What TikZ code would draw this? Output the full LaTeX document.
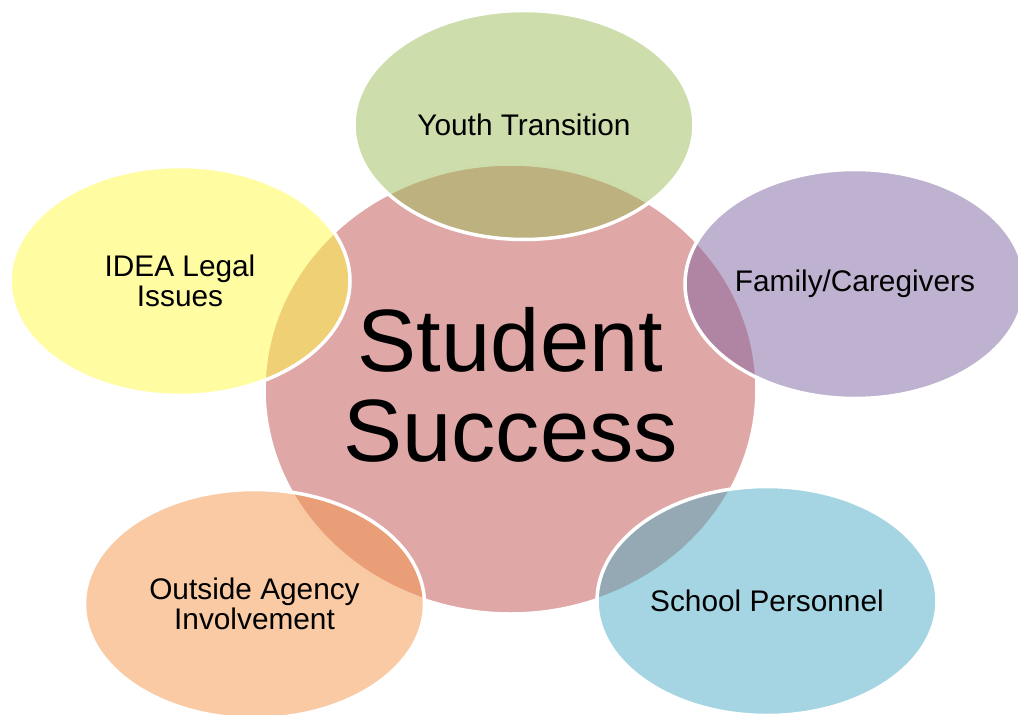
\documentclass[tikz,border=0pt]{standalone}
\usepackage{fontspec}
\setmainfont{Liberation Sans}
\usetikzlibrary{shapes.geometric}
\definecolor{cRed}{HTML}{C0504D}
\definecolor{cGreen}{HTML}{9BBB59}
\definecolor{cPurple}{HTML}{8064A2}
\definecolor{cAqua}{HTML}{4BACC6}
\definecolor{cOrange}{HTML}{F39549}
\definecolor{cYellow}{HTML}{FFFA46}
\begin{document}
\begin{tikzpicture}[x=1pt,y=-1pt,
  bubble/.style={ellipse, draw=white, line width=3.5pt, fill opacity=0.5,
    draw opacity=1, text opacity=1, inner sep=0pt,
    minimum width=340pt, minimum height=229pt, align=center,
    font=\fontsize{29.8}{30}\selectfont},
  hub/.style={ellipse, draw=white, line width=3.5pt, fill opacity=0.5,
    draw opacity=1, text opacity=1, inner sep=0pt,
    minimum width=493pt, minimum height=450pt, align=center,
    font=\fontsize{88.5}{90}\selectfont}]
\useasboundingbox (0,0) rectangle (1018,715);
\node[hub, fill=cRed] (success) at (510.5,389) {Student\\Success\rule[-9.5pt]{0pt}{9.5pt}};
\node[bubble, fill=cGreen] (youth) at (524,125) {Youth Transition};
\node[bubble, fill=cPurple] (family) at (855,284) {Family/Caregivers};
\node[bubble, fill=cAqua] (school) at (767,601) {School Personnel};
\node[bubble, fill=cOrange] (agency) at (254.5,604) {Outside Agency\\Involvement};
\node[bubble, fill=cYellow] (idea) at (180,281) {IDEA Legal\\Issues};
\end{tikzpicture}
\end{document}
